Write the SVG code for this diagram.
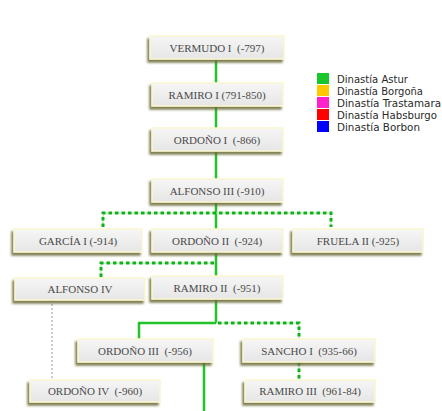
<svg xmlns="http://www.w3.org/2000/svg" width="442" height="411" viewBox="0 0 442 411">
<defs>
<linearGradient id="bg" x1="0" y1="0" x2="0" y2="1">
<stop offset="0" stop-color="#f6f6f6"/>
<stop offset="1" stop-color="#e6e6e6"/>
</linearGradient>
<filter id="sh" x="-20%" y="-40%" width="140%" height="190%">
<feGaussianBlur in="SourceAlpha" stdDeviation="1.2" result="b"/>
<feOffset in="b" dx="-2" dy="3" result="o"/>
<feFlood flood-color="#6a6a35" flood-opacity="0.85"/>
<feComposite in2="o" operator="in" result="s"/>
<feMerge><feMergeNode in="s"/><feMergeNode in="SourceGraphic"/></feMerge>
</filter>
</defs>
<style>
.box{fill:url(#bg);stroke:#fbf7cf;stroke-width:1.5;filter:url(#sh)}
.t{font-family:"Liberation Serif","DejaVu Serif",serif;font-size:11px;fill:#4a4a4a;text-anchor:middle;white-space:pre}
.solid{stroke:#22c32a;stroke-width:2.5;fill:none}
.dbase{stroke:#9de89d;stroke-width:1;fill:none}
.dash{stroke:#14b01c;stroke-width:3;stroke-dasharray:3.5,3;fill:none}
.gray{stroke:#bbbbbb;stroke-width:1.5;stroke-dasharray:2,2;fill:none}
.lg{font-family:"DejaVu Sans","Liberation Sans",sans-serif;font-size:10px;fill:#2a2a2a}
</style>
<rect width="442" height="411" fill="#ffffff"/>
<g id="connectors">
<line class="solid" x1="216" y1="60" x2="216" y2="84"/>
<line class="solid" x1="216" y1="106" x2="216" y2="128"/>
<line class="solid" x1="216" y1="150" x2="216" y2="179"/>
<line class="solid" x1="216" y1="202" x2="216" y2="229"/>
<path class="dbase" d="M103,227 V213 H331 V227"/>
<path class="dash" d="M103,227 V213 H331 V227"/>
<line class="solid" x1="216" y1="252" x2="216" y2="277"/>
<path class="dbase" d="M101,277 V263 H214"/>
<path class="dash" d="M101,277 V263 H214"/>
<line class="solid" x1="216" y1="299" x2="216" y2="323"/>
<path class="solid" d="M216,323 H139 V339"/>
<path class="dbase" d="M216,323 H299 V339"/>
<path class="dash" d="M218,323 H299 V339"/>
<line class="solid" x1="204" y1="362" x2="204" y2="411"/>
<line class="dbase" x1="299" y1="362" x2="299" y2="380"/>
<line class="dash" x1="299" y1="362" x2="299" y2="380"/>
<line class="gray" x1="52" y1="300" x2="52" y2="380"/>
</g>
<g id="n-vermudo1"><rect class="box" x="150" y="36" width="134" height="23"/><text class="t" x="217" y="51.5">VERMUDO I  (-797)</text></g>
<g id="n-ramiro1"><rect class="box" x="152" y="83" width="131" height="23"/><text class="t" x="217" y="98.5">RAMIRO I (791-850)</text></g>
<g id="n-ordono1"><rect class="box" x="152" y="128" width="131" height="23"/><text class="t" x="217" y="143.5">ORDOÑO I  (-866)</text></g>
<g id="n-alfonso3"><rect class="box" x="152" y="179" width="131" height="23"/><text class="t" x="217" y="194.5">ALFONSO III (-910)</text></g>
<g id="n-garcia1"><rect class="box" x="14" y="229" width="128" height="23"/><text class="t" x="78" y="244.5">GARCÍA I (-914)</text></g>
<g id="n-ordono2"><rect class="box" x="152" y="229" width="131" height="23"/><text class="t" x="217" y="244.5">ORDOÑO II  (-924)</text></g>
<g id="n-fruela2"><rect class="box" x="293" y="229" width="130" height="23"/><text class="t" x="358" y="244.5">FRUELA II (-925)</text></g>
<g id="n-alfonso4"><rect class="box" x="15" y="278" width="130" height="22"/><text class="t" x="80" y="293">ALFONSO IV</text></g>
<g id="n-ramiro2"><rect class="box" x="152" y="276" width="131" height="23"/><text class="t" x="217" y="291.5">RAMIRO II  (-951)</text></g>
<g id="n-ordono3"><rect class="box" x="78" y="339" width="135" height="23"/><text class="t" x="145" y="354.5">ORDOÑO III  (-956)</text></g>
<g id="n-sancho1"><rect class="box" x="243" y="339" width="132" height="23"/><text class="t" x="309" y="354.5">SANCHO I  (935-66)</text></g>
<g id="n-ordono4"><rect class="box" x="30" y="380" width="130" height="22"/><text class="t" x="95" y="395">ORDOÑO IV  (-960)</text></g>
<g id="n-ramiro3"><rect class="box" x="245" y="380" width="130" height="22"/><text class="t" x="310" y="395">RAMIRO III  (961-84)</text></g>
<g id="legend">
<rect x="317" y="73" width="12" height="11" fill="#19c72a"/>
<rect x="317" y="85" width="12" height="11" fill="#ffc800"/>
<rect x="317" y="97" width="12" height="11" fill="#ff22cc"/>
<rect x="317" y="109" width="12" height="11" fill="#ff0000"/>
<rect x="317" y="121" width="12" height="11" fill="#0000ff"/>
<text class="lg" x="337" y="82.5" textLength="71" lengthAdjust="spacingAndGlyphs">Dinastía Astur</text>
<text class="lg" x="337" y="94.5" textLength="86" lengthAdjust="spacingAndGlyphs">Dinastía Borgoña</text>
<text class="lg" x="337" y="106.5" textLength="104" lengthAdjust="spacingAndGlyphs">Dinastía Trastamara</text>
<text class="lg" x="337" y="118.5" textLength="100" lengthAdjust="spacingAndGlyphs">Dinastía Habsburgo</text>
<text class="lg" x="337" y="130.5" textLength="83" lengthAdjust="spacingAndGlyphs">Dinastía Borbon</text>
</g>
</svg>
